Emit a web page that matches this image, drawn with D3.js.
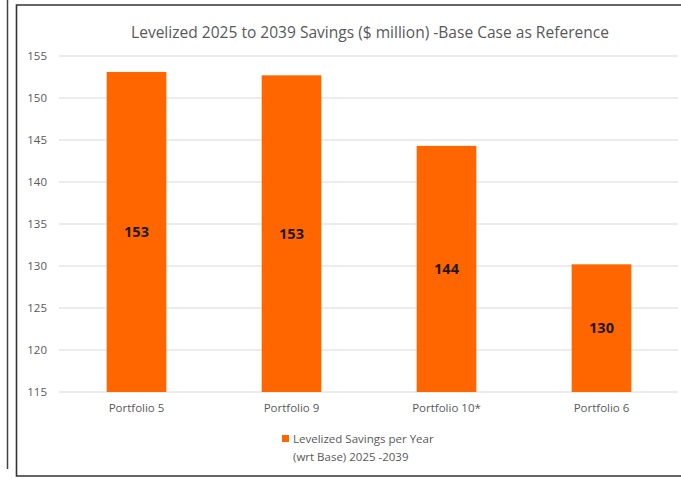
<!DOCTYPE html>
<html>
<head>
<meta charset="utf-8">
<script src="https://cdn.jsdelivr.net/npm/d3@7"></script>
<style>
  html, body { margin: 0; padding: 0; background: #fff; overflow: hidden; }
  svg { display: block; }
  text { font-family: "Open Sans", "Noto Sans", sans-serif; }
</style>
</head>
<body>
<svg id="chart" width="681" height="479"></svg>
<script>
// Levelized savings per portfolio, $ million per year (wrt Base)
const categories = ["Portfolio 5", "Portfolio 9", "Portfolio 10*", "Portfolio 6"];
const savings = [153.1, 152.7, 144.3, 130.2];
const yTicks = [115, 120, 125, 130, 135, 140, 145, 150, 155];
const titleText = "Levelized 2025 to 2039 Savings ($ million) -Base Case as Reference";
const legendLines = ["Levelized Savings per Year", "(wrt Base) 2025 -2039"];

const svg = d3.select("#chart");
const grey = "#595959";
const orange = "#FF6600";

// outer frame lines (the chart frame runs past the right edge)
svg.append("line").attr("x1", 7.5).attr("x2", 7.5).attr("y1", 0).attr("y2", 469)
  .attr("stroke", "#444").attr("stroke-width", 1.5);
svg.append("path")
  .attr("d", "M700,5 H16.5 V476 H700")
  .attr("fill", "#fff").attr("stroke", "#333").attr("stroke-width", 1.6);

const x = d3.scaleBand().domain(categories).range([59, 679])
  .paddingInner(0.615).paddingOuter(0.3075);
const y = d3.scaleLinear().domain([115, 155]).range([392, 56]);

// gridlines
svg.append("g").selectAll("line").data(yTicks).join("line")
  .attr("x1", 59).attr("x2", 678)
  .attr("y1", d => y(d)).attr("y2", d => y(d))
  .attr("stroke", "#d9d9d9").attr("stroke-width", 1.2);

// y axis labels
const yAxis = d3.axisLeft(y).tickValues(yTicks).tickSize(0).tickPadding(0);
const yg = svg.append("g").attr("transform", "translate(47,0)").call(yAxis);
yg.select(".domain").remove();
yg.selectAll("text").attr("fill", grey).style("font-size", "11.5px")
  .style("font-family", "'Open Sans', sans-serif");

// bars
svg.append("g").selectAll("rect").data(categories).join("rect")
  .attr("x", d => x(d))
  .attr("width", x.bandwidth())
  .attr("y", (d, i) => y(savings[i]))
  .attr("height", (d, i) => y(115) - y(savings[i]))
  .attr("fill", orange);

// value labels centred in bars
svg.append("g").selectAll("text").data(categories).join("text")
  .attr("x", d => x(d) + x.bandwidth() / 2)
  .attr("y", (d, i) => (y(savings[i]) + y(115)) / 2)
  .attr("dy", "0.36em")
  .attr("text-anchor", "middle")
  .attr("fill", "#1f1a17")
  .style("font-size", "14.5px").style("font-weight", "bold")
  .text((d, i) => d3.format(".0f")(savings[i]));

// category axis labels
const xAxis = d3.axisBottom(x).tickSize(0).tickPadding(0);
const xg = svg.append("g").attr("transform", "translate(0,404)").call(xAxis);
xg.select(".domain").remove();
xg.selectAll("text").attr("fill", grey).style("font-size", "11.5px")
  .style("font-family", "'Open Sans', sans-serif");

// title, sized to span its slot
const title = svg.append("text")
  .attr("x", 370).attr("y", 38).attr("text-anchor", "middle")
  .attr("fill", grey).style("font-size", "14px").text(titleText);
const tw = title.node().getComputedTextLength();
title.style("font-size", (14 * 478 / tw).toFixed(2) + "px");

// legend
svg.append("rect").attr("x", 282).attr("y", 435).attr("width", 7).attr("height", 7).attr("fill", orange);
svg.append("g").selectAll("text").data(legendLines).join("text")
  .attr("x", 293).attr("y", (d, i) => 443 + i * 18)
  .attr("fill", grey).style("font-size", "11.5px").text(d => d);
</script>
</body>
</html>
